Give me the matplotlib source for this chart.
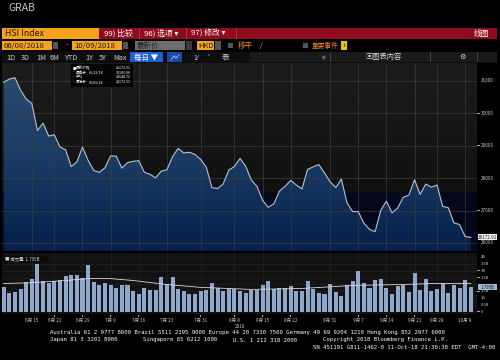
import matplotlib
matplotlib.use('Agg')
import matplotlib.pyplot as plt
import numpy as np
from matplotlib.patches import Rectangle, Polygon
from matplotlib.lines import Line2D
from matplotlib.colors import LinearSegmentedColormap

plt.rcParams['font.family'] = ['Noto Sans CJK SC', 'DejaVu Sans']

# ---------------- data ----------------
dates = ['06/08', '06/11', '06/12', '06/13', '06/14', '06/15', '06/19', '06/20', '06/21', '06/22',
         '06/25', '06/26', '06/27', '06/28', '06/29',
         '07/03', '07/04', '07/05', '07/06', '07/09', '07/10', '07/11', '07/12', '07/13',
         '07/16', '07/17', '07/18', '07/19', '07/20', '07/23', '07/24', '07/25', '07/26', '07/27',
         '07/30', '07/31',
         '08/01', '08/02', '08/03', '08/06', '08/07', '08/08', '08/09', '08/10', '08/13', '08/14',
         '08/15', '08/16', '08/17', '08/20', '08/21', '08/22', '08/23', '08/24', '08/27', '08/28',
         '08/29', '08/30', '08/31',
         '09/03', '09/04', '09/05', '09/06', '09/07', '09/10', '09/11', '09/12', '09/13', '09/14',
         '09/17', '09/18', '09/19', '09/20', '09/21', '09/24', '09/26', '09/27', '09/28',
         '10/02', '10/03', '10/04', '10/05', '10/08', '10/09']

close = [30960, 31060, 31100, 30720, 30440, 30310, 29470, 29700, 29300, 29340,
         28960, 28880, 28360, 28500, 28960,
         28550, 28240, 28180, 28320, 28690, 28680, 28310, 28480, 28520,
         28540, 28180, 28120, 28010, 28220, 28260, 28660, 28920, 28780, 28800,
         28730, 28580,
         28340, 27710, 27680, 27820, 28250, 28360, 28610, 28370, 27940, 27750,
         27320, 27100, 27210, 27600, 27750, 27930, 27790, 27670, 28270, 28350,
         28420, 28160, 27890,
         27710, 27970, 27240, 26970, 26970, 26610, 26420, 26350, 27010, 27290,
         26930, 27080, 27410, 27480, 27950, 27500, 27820, 27720, 27790,
         27130, 27090, 26620, 26570, 26200, 26173]

volume_b = [1.80, 1.37, 1.44, 1.68, 2.16, 2.40, 3.48, 2.28, 2.12, 2.21,
            2.35, 2.64, 2.69, 2.69, 2.45,
            3.41, 2.16, 1.97, 2.09, 1.97, 1.73, 1.97, 1.97, 1.51,
            1.32, 1.76, 1.56, 1.56, 2.57, 1.99, 2.52, 1.68, 1.49, 1.27,
            1.27, 1.51,
            1.61, 2.09, 1.73, 1.51, 1.63, 1.68, 1.51, 1.37, 1.56, 1.56,
            1.97, 2.21, 1.63, 1.73, 1.76, 1.85, 1.51, 1.51, 2.21, 1.68,
            1.40, 1.32, 1.99,
            1.44, 1.13, 1.97, 2.23, 2.95, 2.12, 1.76, 2.33, 2.40, 1.76,
            1.27, 1.87, 1.92, 1.44, 2.83, 1.56, 2.40, 1.49, 1.68,
            2.12, 1.37, 1.97, 1.73, 2.35, 1.80]

# moving-average line of volume, read at a few dates
ma_dates = ['06/08', '06/15', '06/26', '07/03', '07/09', '07/13', '07/23', '07/31',
            '08/13', '08/24', '09/06', '09/19', '09/27', '10/09']
ma_vals = [2.06, 2.12, 2.28, 2.42, 2.42, 2.28, 1.99, 1.78, 1.63, 1.70, 1.92, 1.99, 2.06, 2.06]

tick_dates = ['06/15', '06/22', '06/29', '07/09', '07/16', '07/23', '07/31', '08/08',
              '08/15', '08/22', '08/31', '09/07', '09/14', '09/21', '09/28', '10/08']
tick_labels = ['6月 15', '6月 22', '6月 29', '7月 9', '7月 16', '7月 23', '7月 31', '8月 8',
               '8月 15', '8月 22', '8月 31', '9月 7', '9月 14', '9月 21', '9月 28', '10月 8']

price_ticks = [26000, 27000, 28000, 29000, 30000, 31000]
vol_ticks = [0, 0.5, 1.0, 1.5, 2.5, 3.0, 3.5, 4.0]
vol_tick_labels = ['0', '0.5B', '1B', '1.5B', '2.5B', '3B', '3.5B', '4B']

legend_rows = [('最新价格', '', '26172.91'),
               ('最高于', '06/12/18', '31103.06'),
               ('平均', '', '28644.73'),
               ('最低于', '10/09/18', '26172.91')]

# ---------------- figure ----------------
W, H = 500, 360
fig = plt.figure(figsize=(W / 100, H / 100), dpi=100, facecolor='black')


def fx(x):
    return x / W


def fy(y):
    return 1 - y / H


def add_ax(x0, y0, x1, y1):
    return fig.add_axes([fx(x0), fy(y1), (x1 - x0) / W, (y1 - y0) / H])


def rect(x0, y0, x1, y1, color, z=1):
    fig.patches.append(Rectangle((fx(x0), fy(y1)), (x1 - x0) / W, (y1 - y0) / H,
                                 transform=fig.transFigure, facecolor=color,
                                 edgecolor='none', zorder=z))


def line(x0, y0, x1, y1, color, lw=0.6, z=3):
    fig.lines.append(Line2D([fx(x0), fx(x1)], [fy(y0), fy(y1)], transform=fig.transFigure,
                            color=color, lw=lw, zorder=z))


def txt(x, y, s, size=5, color='white', ha='left', va='center', **kw):
    fig.text(fx(x), fy(y), s, fontsize=size, color=color, ha=ha, va=va, **kw)


# ---- header ----
txt(8, 8, 'GRAB', size=7.5, color='#c8c8c8')

rect(2, 28, 99, 39, '#f7a21b')
txt(5, 33.6, 'HSI Index', size=6.3, color='#1a1a1a')
rect(99, 28, 497, 39, '#8e0c1e')
for xs in (139, 186, 236):
    rect(xs, 28, xs + 0.7, 39, '#b0303d', z=2)
txt(104, 33.6, '99) 比较', size=5.6)
txt(144, 33.6, '96) 选项 ▾', size=5.6)
txt(191, 33.6, '97) 修改 ▾', size=5.6)
txt(489, 33.6, '线图', size=5.6, ha='right')

# row 2
rect(2, 41, 52, 50, '#f7a21b')
txt(4, 45.6, '06/08/2018', size=5.6, color='#1a1a1a')
rect(53, 42, 58, 49, '#555555')
txt(66, 45.6, '-', size=5.6, color='#cccccc')
rect(72, 41, 122, 50, '#f7a21b')
txt(74, 45.6, '10/09/2018', size=5.6, color='#1a1a1a')
rect(123, 42, 128, 49, '#555555')
rect(135, 41, 185, 50, '#6e6e6e')
txt(137, 45.6, '最新价', size=5.4, color='#222222')
rect(186, 41, 192, 50, '#3a3a3a')
rect(197, 41, 214, 50, '#f7a21b')
txt(198.5, 45.6, 'HKD', size=5.4, color='#1a1a1a')
rect(215, 41, 221, 50, '#555555')
rect(228, 43, 233, 48, '#555555')
txt(238, 45.6, '移平', size=5.4, color='#f08a1c')
txt(260, 45.6, '/', size=5, color='#bbbbbb')
rect(303, 43, 308, 48, '#555555')
txt(312, 45.6, '重要事件', size=4.8, color='#f08a1c')
rect(341, 41.5, 347, 49.5, '#e8c400')
txt(344, 45.6, 'i', size=4.2, color='black', ha='center')

# row 3
rect(2, 52, 497, 62.5, '#0e0e0e', z=0.5)
for lab, x in zip(['1D', '3D', '1M', '6M', 'YTD', '1Y', '5Y', 'Max'],
                  [6, 21, 36, 50, 65, 85, 99, 113]):
    txt(x, 57.5, lab, size=5.2, color='#d0d0d0')
rect(130, 52.5, 163, 62, '#1f5fd6')
txt(134, 57.5, '每日 ▼', size=5.4)
rect(167, 52.5, 182, 62, '#1848a8')
line(171, 60, 174, 56, '#a8c4ff', lw=0.6)
line(174, 56, 176, 58, '#a8c4ff', lw=0.6)
line(176, 58, 179, 55, '#a8c4ff', lw=0.6)
txt(193, 57.5, '1⁄', size=5, color='#cccccc')
txt(207, 57.5, "'", size=5, color='#cccccc')
txt(222, 57.5, '表', size=5.4, color='#d0d0d0')
rect(250, 52.5, 497, 62, '#1a1a1a', z=0.8)
txt(324, 57.3, '«', size=6, color='#cccccc', ha='center')
txt(365, 57.5, '▣图表内容', size=5.2, color='#dddddd')
txt(463, 57.3, '⚙', size=5.2, color='#dddddd', ha='center')
for xs in (330, 430, 477):
    rect(xs, 52.5, xs + 0.6, 62, '#444444', z=2)

# ---------------- main price axes ----------------
x = np.arange(len(dates))
XL = (-0.3, 84.1)
ax = add_ax(2, 63, 477, 251)
ax.set_xlim(*XL)
YL = (25753, 31555)
ax.set_ylim(*YL)
ax.set_facecolor('black')

bg = np.linspace(0, 1, 256).reshape(-1, 1)
bg_cmap = LinearSegmentedColormap.from_list('bg', ['#0c0c0c', '#1c1c1c'])
ax.imshow(bg, extent=(0, 1, 0, 1), transform=ax.transAxes, cmap=bg_cmap,
          aspect='auto', origin='lower', zorder=0)
ax.add_patch(Rectangle((XL[0], YL[0]), XL[1] - XL[0], 27570 - YL[0],
                       facecolor='#04071a', edgecolor='none', zorder=0.5))

fill_cmap = LinearSegmentedColormap.from_list('fill', ['#05204a', '#183a63', '#2b4b6d'])
verts = [(x[0], YL[0])] + list(zip(x, close)) + [(x[-1], YL[0])]
poly = Polygon(verts, closed=True, facecolor='none', edgecolor='none')
ax.add_patch(poly)
im = ax.imshow(bg, extent=(XL[0], XL[1], YL[0], 31150), cmap=fill_cmap,
               aspect='auto', origin='lower', zorder=1)
im.set_clip_path(poly)

tick_idx = [dates.index(d) for d in tick_dates]
for t in tick_idx:
    ax.axvline(t, color='#3c3c3c', lw=0.5, zorder=2)
for p in price_ticks:
    ax.axhline(p, color='#3c3c3c', lw=0.5, zorder=2)
ax.plot(x, close, color='#b8c2d0', lw=0.8, zorder=3)

ax.set_xticks([])
ax.set_yticks([])
for s in ax.spines.values():
    s.set_visible(False)

# right price labels
for p in price_ticks:
    yy = 63 + (YL[1] - p) / (YL[1] - YL[0]) * (251 - 63)
    txt(481, yy, str(p), size=3.3, color='#c8c8c8')
    rect(477, yy - 0.3, 479.5, yy + 0.3, '#aaaaaa', z=3)
ylast = 63 + (YL[1] - close[-1]) / (YL[1] - YL[0]) * (251 - 63)
rect(478, ylast - 3, 497, ylast + 3, '#f2f2f2', z=3)
txt(487.5, ylast, '%.2f' % 26172.91, size=3.3, color='#111111', ha='center',
    zorder=4)

# legend box
rect(70.5, 64, 133, 86.5, '#050505', z=3)
for i, (name, dt, val) in enumerate(legend_rows):
    yy = 67.8 + i * 4.8
    mark = '■' if i == 0 else '-'
    txt(72.5, yy, mark, size=2.6, color='white', zorder=4)
    txt(75.5, yy, name, size=2.6, color='white', zorder=4)
    if dt:
        txt(88.5, yy, dt, size=2.6, color='white', zorder=4)
    txt(131, yy, val, size=2.6, color='white', ha='right', zorder=4)

# ---------------- volume axes ----------------
vax = add_ax(2, 253, 477, 314)
vax.set_xlim(*XL)
VL = (-0.165, 4.29)
vax.set_ylim(*VL)
vax.set_facecolor('#121212')
for v in [0.5, 1.0, 1.5, 2.0, 2.5, 3.0, 3.5, 4.0]:
    vax.axhline(v, color='#262626', lw=0.4, zorder=0.5)
for t in tick_idx:
    vax.axvline(t, color='#262626', lw=0.4, zorder=0.5)
vax.bar(x, volume_b, width=0.72, color='#8ea7cb', zorder=2)
ma_idx = [dates.index(d) for d in ma_dates]
vax.plot(ma_idx, ma_vals, color='#d8d8d8', lw=0.6, zorder=3)
vax.set_xticks([])
vax.set_yticks([])
for s in vax.spines.values():
    s.set_visible(False)

for v, lab in zip(vol_ticks, vol_tick_labels):
    yy = 253 + (VL[1] - v) / (VL[1] - VL[0]) * (314 - 253)
    txt(481, yy, lab, size=3.0, color='#c8c8c8')
    rect(477, yy - 0.3, 479.5, yy + 0.3, '#aaaaaa', z=3)
yv = 253 + (VL[1] - volume_b[-1]) / (VL[1] - VL[0]) * (314 - 253)
rect(478, yv - 3, 497, yv + 3, '#9fb6d8', z=3)
txt(487.5, yv, '1.795B', size=3.2, color='#111111', ha='center', zorder=4)

rect(3, 256, 48, 262, '#0a0a0a', z=3)
txt(5, 259, '■ 成交量  1.795B', size=3.2, color='#c8d4ea', zorder=4)

# right axis line
rect(476.6, 63, 477.4, 314, '#9a9a9a', z=3)

# x tick labels
for t, lab in zip(tick_idx, tick_labels):
    xx = 2 + (t - XL[0]) / (XL[1] - XL[0]) * 475
    rect(xx - 0.3, 315, xx + 0.3, 317, '#aaaaaa', z=3)
    txt(xx, 320.5, lab, size=3.3, color='#c8c8c8', ha='center')
txt(240, 326.5, '2018', size=3.3, color='#c8c8c8', ha='center')

# footer
mono = 'DejaVu Sans Mono'
txt(50.5, 332.7, 'Australia 61 2 9777 8600 Brazil 5511 2395 9000 Europe 44 20 7330 7500 '
    'Germany 49 69 9204 1210 Hong Kong 852 2977 6000', size=4.05, family=mono)
txt(50.5, 340, 'Japan 81 3 3201 8900', size=4.05, family=mono)
txt(143, 340, 'Singapore 65 6212 1000', size=4.05, family=mono)
txt(233, 340, 'U.S. 1 212 318 2000', size=4.05, family=mono)
txt(448, 340, 'Copyright 2018 Bloomberg Finance L.P.', size=4.05, family=mono, ha='right')
txt(495, 347.3, 'SN 451191 G811-1462-0 11-Oct-18 21:30:38 EDT  GMT-4:00', size=4.05,
    family=mono, ha='right')

fig.savefig('out.png', dpi=100, facecolor='black')
